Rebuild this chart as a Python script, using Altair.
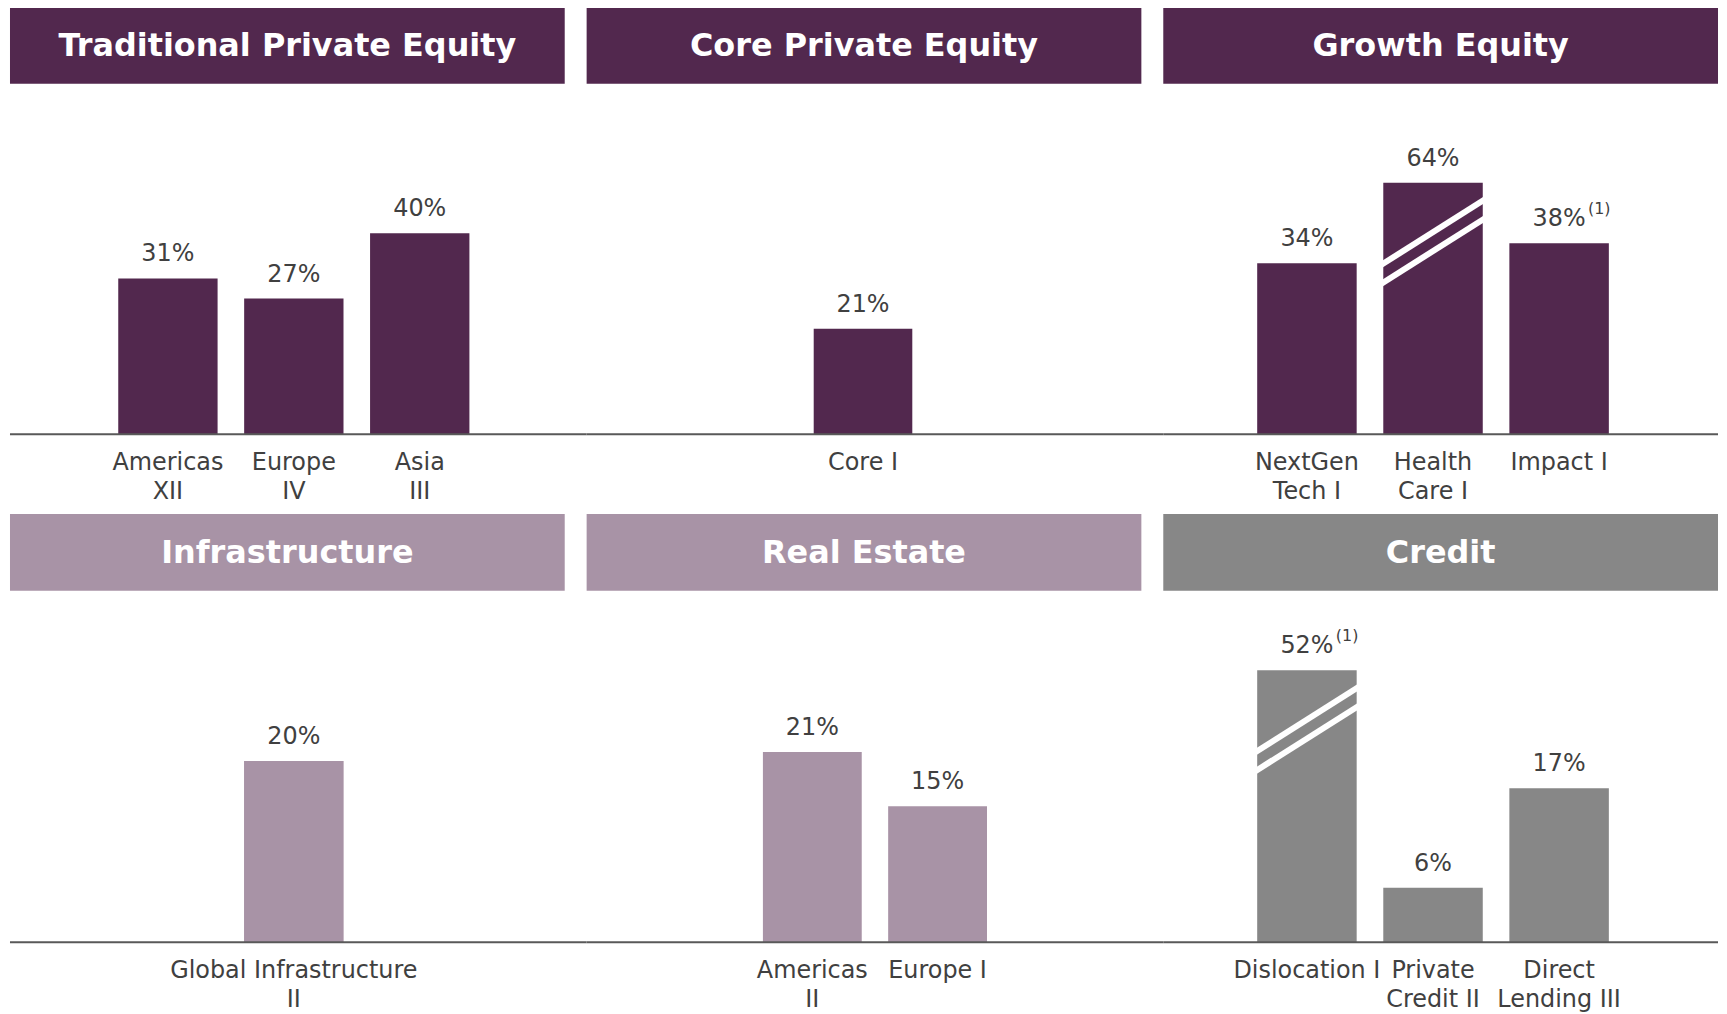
import altair as alt
import pandas as pd

# ---------------- data ----------------
titles = ["Traditional Private Equity", "Core Private Equity", "Growth Equity",
          "Infrastructure", "Real Estate", "Credit"]

trad_funds = ["Americas\nXII", "Europe\nIV", "Asia\nIII"]
trad_values = [31, 27, 40]
trad_notes = ["", "", ""]

core_funds = ["Core I"]
core_values = [21]
core_notes = [""]

growth_funds = ["NextGen\nTech I", "Health\nCare I", "Impact I"]
growth_values = [34, 64, 38]
growth_notes = ["", "", "(1)"]

infra_funds = ["Global Infrastructure\nII"]
infra_values = [20]
infra_notes = [""]

re_funds = ["Americas\nII", "Europe I"]
re_values = [21, 15]
re_notes = ["", ""]

credit_funds = ["Dislocation I", "Private\nCredit II", "Direct\nLending III"]
credit_values = [52, 6, 17]
credit_notes = ["(1)", "", ""]

# bars drawn with a broken axis: height at which they are cut
axis_break = {"Health\nCare I": 50, "Dislocation I": 30}

# ---------------- style ----------------
DARK = "#52284E"
LIGHT = "#A893A6"
GREY = "#878787"
TEXT = "#404040"
AXIS = "#595959"
FONT = "DejaVu Sans"
W = 557
GAP = 22


def panel(title, funds, values, notes, color, height, y_max, band_range,
          header_h, rule_w):
    df = pd.DataFrame({"fund": funds, "value": values, "note": notes})
    df["shown"] = [min(v, axis_break.get(f, v)) for f, v in zip(funds, values)]
    df["label"] = [f"{v}%" for v in values]
    df["broken"] = [f in axis_break for f in funds]

    xs = alt.Scale(domain=funds, range=band_range, paddingInner=0.211,
                   paddingOuter=0)
    ys = alt.Scale(domain=[0, y_max], nice=False, zero=True)
    x = alt.X("fund:N", scale=xs, axis=None, sort=funds)
    y = alt.Y("shown:Q", scale=ys, axis=None)

    base = alt.Chart(df)
    bars = base.mark_bar(color=color).encode(x=x, y=y)
    stripe1 = base.transform_filter("datum.broken").mark_rule(
        color="white", strokeWidth=6, xOffset=-53, x2Offset=53,
        yOffset=83, y2Offset=16).encode(x=x, x2="fund:N", y=y, y2="shown:Q")
    stripe2 = base.transform_filter("datum.broken").mark_rule(
        color="white", strokeWidth=6, xOffset=-53, x2Offset=53,
        yOffset=102, y2Offset=35).encode(x=x, x2="fund:N", y=y, y2="shown:Q")
    vals = base.mark_text(font=FONT, fontSize=24, color=TEXT,
                          baseline="alphabetic", dy=-17).encode(
        x=x, y=y, text="label:N")
    sup = base.transform_filter("datum.note != ''").mark_text(
        font=FONT, fontSize=16, color=TEXT, align="left",
        baseline="alphabetic", dx=29, dy=-29).encode(x=x, y=y, text="note:N")
    names = base.mark_text(font=FONT, fontSize=24, color=TEXT,
                           baseline="alphabetic", dy=36, lineBreak="\n",
                           lineHeight=29).encode(
        x=x, y=alt.value(height), text="fund:N")

    zero = alt.Chart(pd.DataFrame({"zero": [0]})).mark_rule(
        color=AXIS, strokeWidth=2).encode(
        x=alt.value(0), x2=alt.value(rule_w),
        y=alt.Y("zero:Q", scale=ys, axis=None))

    hdr = alt.Chart(pd.DataFrame({"title": [title]}))
    hrect = hdr.mark_rect(color=color).encode(
        x=alt.value(0), x2=alt.value(W), y=alt.value(0), y2=alt.value(header_h))
    htext = hdr.mark_text(font=FONT, fontSize=32, fontWeight="bold",
                          color="white", baseline="middle").encode(
        x=alt.value(W / 2), y=alt.value(header_h / 2 + 1), text="title:N")

    return alt.layer(hrect, htext, bars, stripe1, stripe2, zero, vals, sup,
                     names).properties(width=W, height=height)


H1, H2 = 429, 430
Y1, Y2 = H1 / 5.05, H2 / 9.1

panels = [
    panel(titles[0], trad_funds, trad_values, trad_notes, DARK, H1, Y1,
          [108.7, 461.3], 77, W + GAP),
    panel(titles[1], core_funds, core_values, core_notes, DARK, H1, Y1,
          [228, 327], 77, W + GAP),
    panel(titles[2], growth_funds, growth_values, growth_notes, DARK, H1, Y1,
          [94.3, 447.4], 77, W),
    panel(titles[3], infra_funds, infra_values, infra_notes, LIGHT, H2, Y2,
          [235, 335], 77, W + GAP),
    panel(titles[4], re_funds, re_values, re_notes, LIGHT, H2, Y2,
          [177, 402], 77, W + GAP),
    panel(titles[5], credit_funds, credit_values, credit_notes, GREY, H2, Y2,
          [94.3, 447.4], 77, W),
]

chart = alt.concat(*panels, columns=3, spacing={"row": 80, "column": GAP},
                   bounds="flush").properties(
    padding={"left": 1, "top": -3, "right": 0, "bottom": 0}
).configure(
    background="white",
    view=alt.ViewConfig(stroke="transparent", strokeWidth=0))

chart.save("out.html", embed_options={"renderer": "svg", "actions": False})
